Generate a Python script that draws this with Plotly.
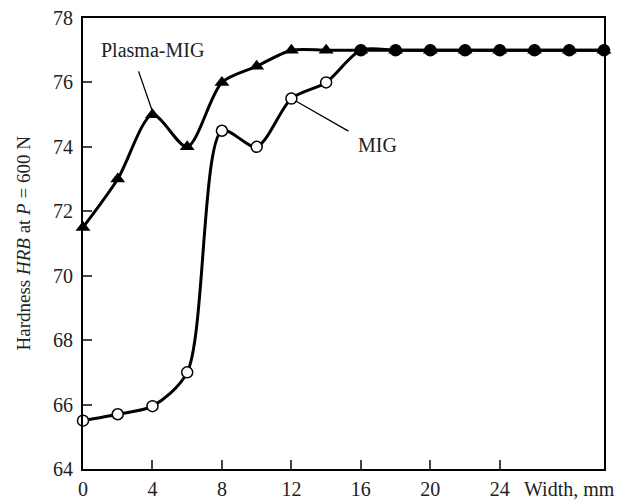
import plotly.graph_objects as go

width_mm = [0, 2, 4, 6, 8, 10, 12, 14, 16, 18, 20, 22, 24, 26, 28, 30]
plasma_mig = [71.5, 73, 75, 74, 76, 76.5, 77, 77, 77, 77, 77, 77, 77, 77, 77, 77]
mig = [65.5, 65.7, 65.95, 67, 74.5, 74, 75.5, 76, 77, 77, 77, 77, 77, 77, 77, 77]
x_ticks = [0, 4, 8, 12, 16, 20, 24]
y_ticks = [64, 66, 68, 70, 72, 74, 76, 78]

FONT = "Liberation Serif"
TXT = "#222"
mig_fill = ["white" if x < 16 else "black" for x in width_mm]

fig = go.Figure()
fig.add_trace(go.Scatter(
    x=width_mm, y=mig, mode="lines+markers", name="MIG",
    line=dict(color="black", width=3, shape="spline", smoothing=0.8),
    marker=dict(symbol="circle", size=11, color=mig_fill, line=dict(color="black", width=1.5)),
    cliponaxis=False,
))
fig.add_trace(go.Scatter(
    x=width_mm, y=plasma_mig, mode="lines+markers", name="Plasma-MIG",
    line=dict(color="black", width=3, shape="spline", smoothing=0.8),
    marker=dict(symbol="triangle-up", size=13, color="black"),
    cliponaxis=False,
))

# leader lines
fig.add_annotation(x=4.0, y=75.1, ax=3.17, ay=76.39, axref="x", ayref="y",
                   xref="x", yref="y", text="", showarrow=True, arrowhead=0,
                   arrowwidth=1.3, arrowcolor="black", standoff=0)
fig.add_annotation(x=12, y=75.5, ax=15.37, ay=74.46, axref="x", ayref="y",
                   xref="x", yref="y", text="", showarrow=True, arrowhead=0,
                   arrowwidth=1.3, arrowcolor="black", standoff=5)
# labels
fig.add_annotation(x=4.03, y=77.0, xref="x", yref="y", text="Plasma-MIG",
                   showarrow=False, font=dict(family=FONT, size=20, color=TXT))
fig.add_annotation(x=16.93, y=74.06, xref="x", yref="y", text="MIG",
                   showarrow=False, font=dict(family=FONT, size=20, color=TXT))
fig.add_annotation(x=1.0, y=0, xref="paper", yref="paper", xshift=13, yshift=-20,
                   text="Width, mm", xanchor="right", yanchor="middle",
                   showarrow=False, font=dict(family=FONT, size=20, color=TXT))
fig.add_annotation(x=0, y=0.5, xref="paper", yref="paper", xshift=-60,
                   text="Hardness <i>HRB</i> at <i>P</i> = 600 N", textangle=-90,
                   xanchor="center", yanchor="middle", showarrow=False,
                   font=dict(family=FONT, size=19, color=TXT))

fig.update_layout(
    width=632, height=501,
    margin=dict(l=83, r=28, t=18, b=32),
    plot_bgcolor="white", paper_bgcolor="white",
    showlegend=False,
    font=dict(family=FONT, size=20, color=TXT),
)
fig.update_xaxes(range=[0, 30], tickvals=x_ticks, ticks="inside", ticklen=9,
                 tickwidth=2, showline=True, linewidth=2, linecolor="black",
                 mirror=True, showgrid=False, zeroline=False, automargin=False,
                 ticklabelstandoff=1,
                 tickfont=dict(family=FONT, size=20, color=TXT))
fig.update_yaxes(range=[64, 78], tickvals=y_ticks, ticks="inside", ticklen=9,
                 tickwidth=2, showline=True, linewidth=2, linecolor="black",
                 mirror=True, showgrid=False, zeroline=False, automargin=False,
                 ticklabelstandoff=4,
                 tickfont=dict(family=FONT, size=20, color=TXT))

fig.write_html(
    "out.html",
    config={"displayModeBar": False},
    post_script="document.body.style.margin='0';document.body.style.overflow='hidden';",
)
